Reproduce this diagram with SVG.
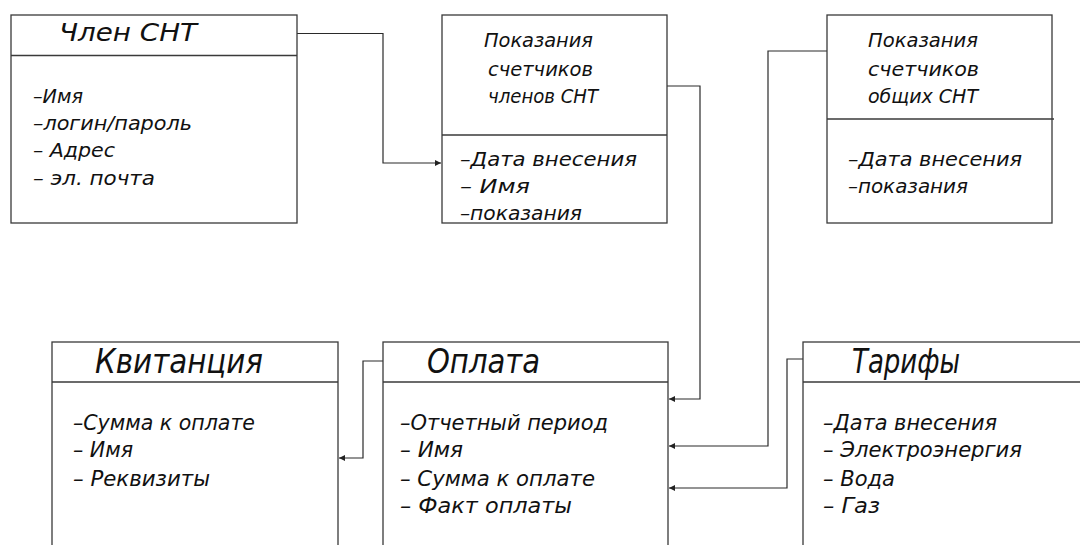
<svg xmlns="http://www.w3.org/2000/svg" width="1080" height="545" viewBox="0 0 1080 545">
<style>
.box{fill:#fff;stroke:#3a3a3a;stroke-width:1.3}
.div{stroke:#3a3a3a;stroke-width:1.3;fill:none}
.t{font-family:"DejaVu Sans Condensed","DejaVu Sans",sans-serif;font-style:italic;fill:#111}
.h1{font-size:34px}
.h2{font-size:20px}
.b1{font-size:19px}
.b2{font-size:21px}
.con{fill:none;stroke:#2a2a2a;stroke-width:1.2}
</style>
<defs>
<marker id="ah" markerUnits="userSpaceOnUse" markerWidth="8" markerHeight="8" refX="6" refY="3" orient="auto">
<path d="M0,0 L6,3 L0,6 Z" fill="#222"/>
</marker>
</defs>
<rect width="1080" height="545" fill="#fff"/>

<g id="connectors">
<path class="con" d="M297,33.5 H383 V163 H441" marker-end="url(#ah)"/>
<path class="con" d="M667,86 H700 V399 H669" marker-end="url(#ah)"/>
<path class="con" d="M827,51 H768 V446 H669" marker-end="url(#ah)"/>
<path class="con" d="M803,359 H787 V488 H669" marker-end="url(#ah)"/>
<path class="con" d="M383,361 H363 V458 H339" marker-end="url(#ah)"/>
</g>

<g id="chlen-snt">
<rect class="box" x="11" y="15" width="286" height="208"/>
<line class="div" x1="11" y1="55.5" x2="297" y2="55.5"/>
<text class="t" x="59" y="41" font-size="25" textLength="138" lengthAdjust="spacingAndGlyphs">Член СНТ</text>
<text class="t b1" x="33" y="103" textLength="50" lengthAdjust="spacingAndGlyphs">–Имя</text>
<text class="t b1" x="33" y="130" textLength="159" lengthAdjust="spacingAndGlyphs">–логин/пароль</text>
<text class="t b1" x="33" y="157" textLength="82" lengthAdjust="spacingAndGlyphs">– Адрес</text>
<text class="t b1" x="33" y="185" textLength="122" lengthAdjust="spacingAndGlyphs">– эл. почта</text>
</g>

<g id="pokazaniya-chlenov">
<rect class="box" x="442" y="15" width="225" height="208"/>
<line class="div" x1="442" y1="135" x2="667" y2="135"/>
<text class="t h2" x="484" y="47" textLength="109" lengthAdjust="spacingAndGlyphs">Показания</text>
<text class="t h2" x="488" y="76" textLength="105" lengthAdjust="spacingAndGlyphs">счетчиков</text>
<text class="t h2" x="488" y="103" textLength="110" lengthAdjust="spacingAndGlyphs">членов СНТ</text>
<text class="t h2" x="460" y="166" textLength="177" lengthAdjust="spacingAndGlyphs">–Дата внесения</text>
<text class="t h2" x="460" y="193" textLength="70" lengthAdjust="spacingAndGlyphs">– Имя</text>
<text class="t h2" x="460" y="220" textLength="122" lengthAdjust="spacingAndGlyphs">–показания</text>
</g>

<g id="pokazaniya-obshchih">
<rect class="box" x="827" y="15" width="225" height="208"/>
<line class="div" x1="827" y1="119" x2="1054" y2="119"/>
<text class="t h2" x="868" y="47" textLength="110" lengthAdjust="spacingAndGlyphs">Показания</text>
<text class="t h2" x="868" y="76" textLength="111" lengthAdjust="spacingAndGlyphs">счетчиков</text>
<text class="t h2" x="868" y="103" textLength="110" lengthAdjust="spacingAndGlyphs">общих СНТ</text>
<text class="t h2" x="848" y="166" textLength="174" lengthAdjust="spacingAndGlyphs">–Дата внесения</text>
<text class="t h2" x="848" y="193" textLength="120" lengthAdjust="spacingAndGlyphs">–показания</text>
</g>

<g id="kvitanciya">
<rect class="box" x="52" y="342" width="286" height="230"/>
<line class="div" x1="52" y1="382" x2="338" y2="382"/>
<text class="t h1" x="95" y="373" textLength="168" lengthAdjust="spacingAndGlyphs">Квитанция</text>
<text class="t b2" x="73" y="430" textLength="182" lengthAdjust="spacingAndGlyphs">–Сумма к оплате</text>
<text class="t b2" x="73" y="457" textLength="60" lengthAdjust="spacingAndGlyphs">– Имя</text>
<text class="t b2" x="73" y="486" textLength="137" lengthAdjust="spacingAndGlyphs">– Реквизиты</text>
</g>

<g id="oplata">
<rect class="box" x="383" y="342" width="285" height="230"/>
<line class="div" x1="383" y1="382" x2="668" y2="382"/>
<text class="t h1" x="427" y="373" textLength="113" lengthAdjust="spacingAndGlyphs">Оплата</text>
<text class="t b2" x="400" y="430" textLength="208" lengthAdjust="spacingAndGlyphs">–Отчетный период</text>
<text class="t b2" x="400" y="457" textLength="63" lengthAdjust="spacingAndGlyphs">– Имя</text>
<text class="t b2" x="400" y="486" textLength="195" lengthAdjust="spacingAndGlyphs">– Сумма к оплате</text>
<text class="t b2" x="400" y="513" textLength="172" lengthAdjust="spacingAndGlyphs">– Факт оплаты</text>
</g>

<g id="tarify">
<rect class="box" x="803" y="342" width="300" height="230"/>
<line class="div" x1="803" y1="382" x2="1080" y2="382"/>
<text class="t h1" x="852" y="373" textLength="108" lengthAdjust="spacingAndGlyphs">Тарифы</text>
<text class="t b2" x="823" y="430" textLength="174" lengthAdjust="spacingAndGlyphs">–Дата внесения</text>
<text class="t b2" x="823" y="457" textLength="199" lengthAdjust="spacingAndGlyphs">– Электроэнергия</text>
<text class="t b2" x="823" y="486" textLength="72" lengthAdjust="spacingAndGlyphs">– Вода</text>
<text class="t b2" x="823" y="513" textLength="57" lengthAdjust="spacingAndGlyphs">– Газ</text>
</g>
</svg>
